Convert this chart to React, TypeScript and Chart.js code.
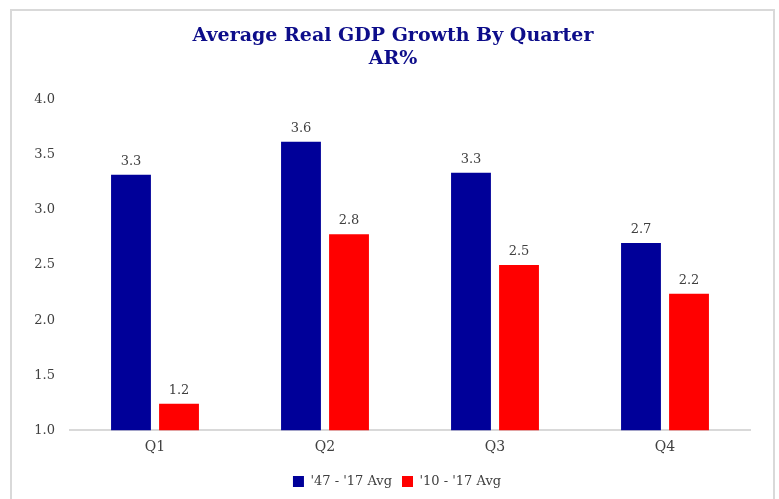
import React, { useEffect, useRef } from "react";
import { Chart, registerables } from "chart.js";

Chart.register(...registerables);

const categories = ["Q1", "Q2", "Q3", "Q4"];
const seriesNames = ["'47 - '17 Avg", "'10 - '17 Avg"];
const longRunAvg = [3.32, 3.62, 3.34, 2.7];
const recentAvg = [1.24, 2.78, 2.5, 2.24];
const yTicks = [1.0, 1.5, 2.0, 2.5, 3.0, 3.5, 4.0];
const titleLines = ["Average Real GDP Growth By Quarter", "AR%"];

const FONT = "'DejaVu Serif', Georgia, serif";
const TEXT = "#404040";

const framePlugin = {
  id: "frame",
  afterLayout(chart: any) {
    if (chart.legend) {
      chart.legend.left = 44;
    }
  },
  beforeDraw(chart: any) {
    const ctx = chart.ctx;
    ctx.save();
    ctx.fillStyle = "#ffffff";
    ctx.fillRect(0, 0, chart.width, chart.height);
    ctx.strokeStyle = "#d9d9d9";
    ctx.lineWidth = 2;
    ctx.beginPath();
    ctx.moveTo(11, chart.height);
    ctx.lineTo(11, 10);
    ctx.lineTo(774, 10);
    ctx.lineTo(774, chart.height);
    ctx.stroke();
    // title
    ctx.fillStyle = "#0d0d8a";
    ctx.font = `bold 19px ${FONT}`;
    ctx.textAlign = "center";
    ctx.textBaseline = "middle";
    ctx.fillText(titleLines[0], 393, 36);
    ctx.fillText(titleLines[1], 393, 59);
    ctx.restore();
  },
};

const valueLabelPlugin = {
  id: "valueLabels",
  afterDatasetsDraw(chart: any) {
    const ctx = chart.ctx;
    ctx.save();
    ctx.font = `13px ${FONT}`;
    ctx.fillStyle = TEXT;
    ctx.textAlign = "center";
    ctx.textBaseline = "bottom";
    chart.data.datasets.forEach((ds: any, di: number) => {
      const meta = chart.getDatasetMeta(di);
      meta.data.forEach((bar: any, i: number) => {
        ctx.fillText(Number(ds.data[i]).toFixed(1), bar.x, bar.y - 7);
      });
    });
    ctx.restore();
  },
};

export default function App() {
  const ref = useRef<HTMLCanvasElement | null>(null);
  useEffect(() => {
    if (!ref.current) return;
    const chart = new Chart(ref.current, {
      type: "bar",
      data: {
        labels: categories,
        datasets: [
          {
            label: seriesNames[0],
            data: longRunAvg,
            backgroundColor: "#000099",
            categoryPercentage: 0.565,
            barPercentage: 0.83,
          },
          {
            label: seriesNames[1],
            data: recentAvg,
            backgroundColor: "#ff0000",
            categoryPercentage: 0.565,
            barPercentage: 0.83,
          },
        ],
      },
      options: {
        animation: false,
        responsive: false,
        maintainAspectRatio: false,
        layout: { padding: { top: 100, right: 29, bottom: 1, left: 0 } },
        plugins: {
          title: { display: false },
          legend: {
            position: "bottom",
            labels: {
              color: TEXT,
              font: { family: FONT, size: 13 },
              boxWidth: 11,
              boxHeight: 11,
              padding: 10,
            },
          },
          tooltip: { enabled: false },
        },
        scales: {
          x: {
            grid: { display: false, drawTicks: false },
            border: { display: true, color: "#d9d9d9", width: 2 },
            ticks: { color: TEXT, font: { family: FONT, size: 14 }, padding: 9 },
          },
          y: {
            min: 1,
            max: 4,
            afterFit(scale: any) {
              scale.width = 70;
            },
            afterBuildTicks(scale: any) {
              scale.ticks = yTicks.map((v) => ({ value: v }));
            },
            grid: { display: false, drawTicks: false },
            border: { display: false },
            ticks: {
              color: TEXT,
              font: { family: FONT, size: 13 },
              padding: 15,
              callback: (v: any) => Number(v).toFixed(1),
            },
          },
        },
      },
      plugins: [framePlugin, valueLabelPlugin],
    });
    return () => chart.destroy();
  }, []);
  return (
    <div style={{ position: "fixed", left: 0, top: 0, width: 779, height: 499 }}>
      <canvas ref={ref} width={779} height={499} style={{ width: 779, height: 499 }} />
    </div>
  );
}
